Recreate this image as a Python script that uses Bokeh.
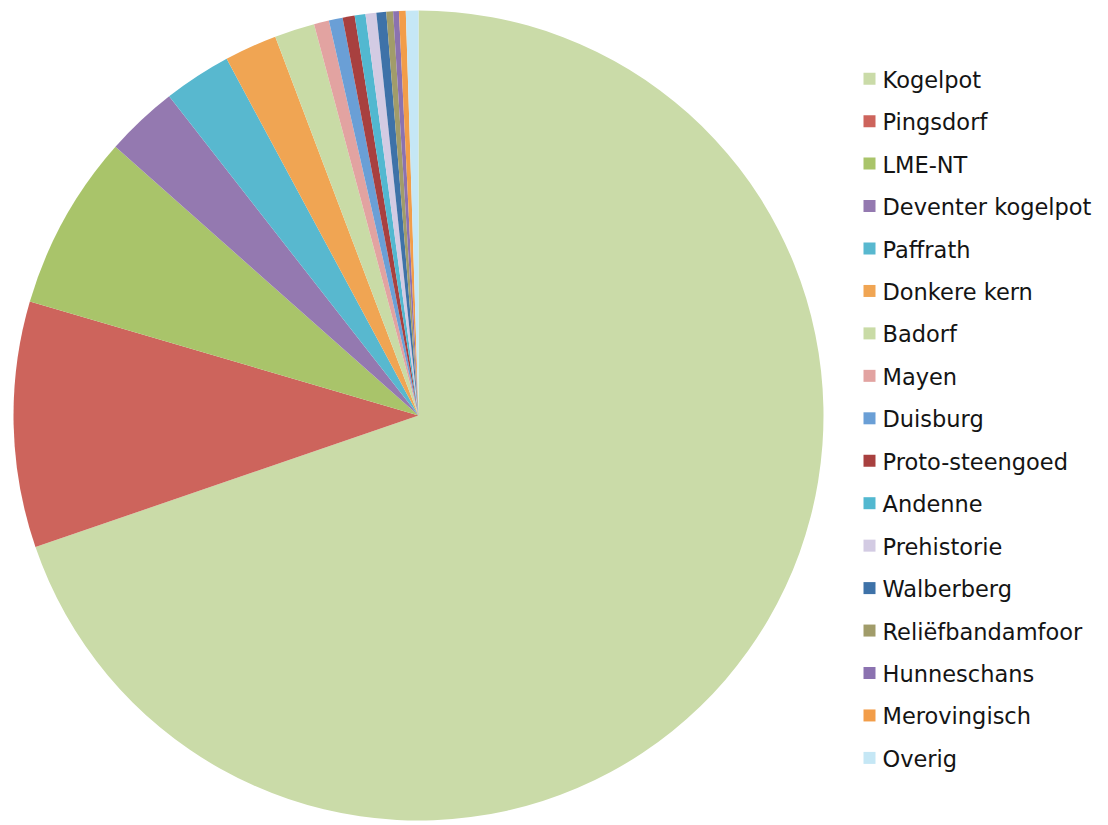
import math
from bokeh.plotting import figure
from bokeh.models import ColumnDataSource
from bokeh.core.properties import value
from bokeh.embed import file_html
from bokeh.resources import INLINE

# ---- data (percent shares) ----
categories = ["Kogelpot", "Pingsdorf", "LME-NT", "Deventer kogelpot", "Paffrath",
              "Donkere kern", "Badorf", "Mayen", "Duisburg", "Proto-steengoed",
              "Andenne", "Prehistorie", "Walberberg", "Reliëfbandamfoor",
              "Hunneschans", "Merovingisch", "Overig"]
shares = [69.7, 9.8, 7.0, 2.9, 2.7, 2.1, 1.6, 0.6, 0.55, 0.48,
          0.43, 0.43, 0.39, 0.27, 0.23, 0.27, 0.5]
colors = ["#CADBA8", "#CD645C", "#A9C46A", "#9479B0", "#58B8CF",
          "#F0A553", "#C9DBA6", "#E2A3A1", "#6A9FD6", "#A8403F",
          "#52B8D0", "#D3CBE3", "#3E72A8", "#A19C6A", "#8B72B0",
          "#F29D49", "#C5E7F5"]

W, H = 1108, 825

def sx(x):  # screen x -> data x
    return x

def sy(y):  # screen y -> data y
    return H - y

total = sum(shares)
starts, ends = [], []
cum = 0.0
for s in shares:
    a0 = cum / total * 2 * math.pi
    cum += s
    a1 = cum / total * 2 * math.pi
    # clockwise from 12 o'clock
    starts.append(math.pi / 2 - a1)
    ends.append(math.pi / 2 - a0)

cx, cy, R = sx(418), sy(415), 405

src = ColumnDataSource(dict(cat=categories, val=shares, color=colors,
                            start=starts, end=ends))

p = figure(width=W, height=H, x_range=(0, W), y_range=(0, H),
           output_backend="svg", toolbar_location=None,
           x_axis_location=None, y_axis_location=None, min_border=0)
p.grid.visible = False
p.outline_line_color = None
p.background_fill_color = "white"

p.wedge(x=cx, y=cy, radius=R, start_angle="start", end_angle="end",
        direction="anticlock", fill_color="color", line_color=None, source=src)

# ---- legend ----
base0 = 86.7
pitch = 42.45
n = len(categories)
leg = ColumnDataSource(dict(
    x=[sx(869)] * n,
    ym=[sy(base0 + i * pitch - 8.5) for i in range(n)],
    yt=[sy(base0 + i * pitch - 7.5) for i in range(n)],
    tx=[sx(882)] * n,
    label=categories, color=colors))
p.scatter(x="x", y="ym", marker="square", size=12, fill_color="color",
          line_color=None, source=leg)
p.text(x="tx", y="yt", text="label", source=leg, text_font=value("DejaVu Sans"),
       text_font_size="22.5px", text_color="#141414", text_baseline="alphabetic",
       text_align="left")

open("out.html", "w").write(file_html(p, INLINE))
